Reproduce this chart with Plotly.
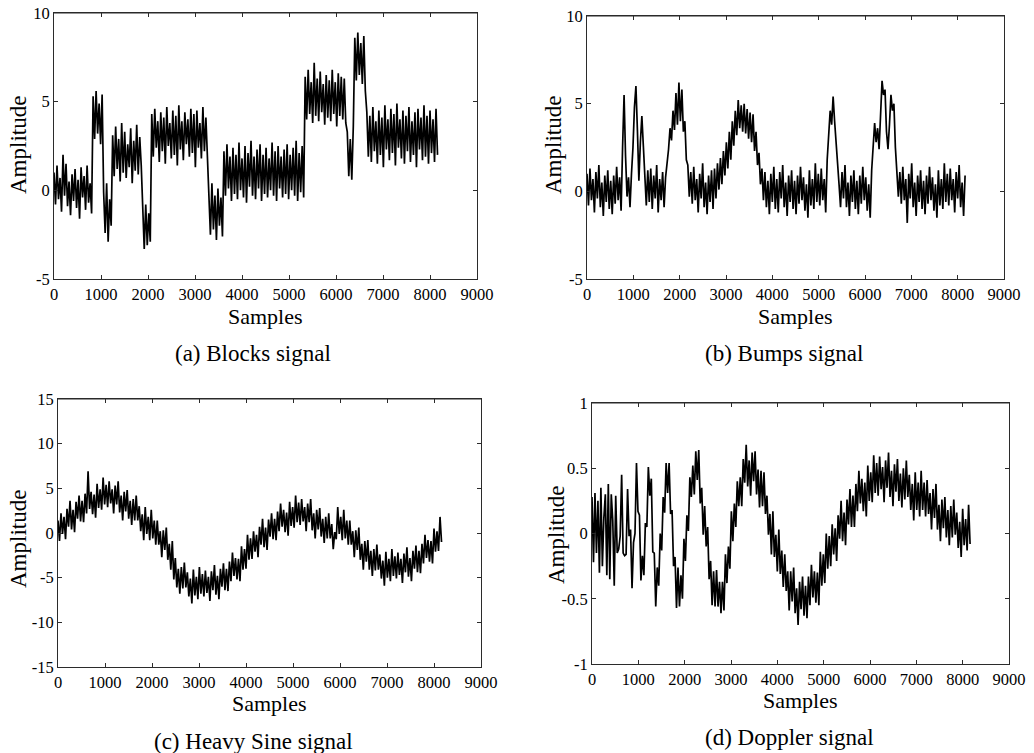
import plotly.graph_objects as go

W, H = 1034, 753

# ---------------- data (one value every 32 samples) ----------------
STEP = 32
samples = list(range(0, 8192, STEP))

blocks = [
    1.0, -0.8, 1.4, -0.5, 0.7, -1.2, 2.0, -0.3, 1.5, -0.9, 0.5, -1.4, 0.9, -0.6, 1.2, -1.0,
    0.6, -1.6, 1.3, -0.4, 0.8, -1.1, 1.4, -0.7, 0.4, -1.3,
    5.3, 2.9, 5.6, 3.2, 4.9, 2.6, 5.4,
    -0.1, -2.4, 0.4, -2.9, -0.5, -2.0,
    3.1, 0.8, 3.6, 1.2, 2.9, 0.5, 3.8, 1.0, 3.3, 0.7, 2.6, 1.3, 3.5, 0.4, 2.8, 1.1, 3.7, 0.9, 3.0, 1.4,
    -1.0, -3.3, -0.8, -3.1, -1.3, -2.9,
    4.3, 1.9, 4.6, 2.4, 3.9, 1.6, 4.4, 2.2, 4.1, 1.5, 4.7, 2.5, 3.8, 1.8, 4.5, 2.0, 4.2, 1.4, 4.8, 2.3,
    3.9, 1.7, 4.4, 2.6, 4.0, 1.9, 4.6, 2.1, 4.3, 1.3, 4.5, 2.4, 3.8, 1.8, 4.7, 2.2, 4.1, 1.6,
    -0.1, -2.5, 0.4, -2.2, -0.3, -2.8, 0.1, -2.0, -0.4, -2.6,
    2.2, -0.3, 2.6, 0.1, 1.9, -0.6, 2.4, -0.2, 2.0, -0.5, 2.7, 0.0, 1.8, -0.4, 2.5, -0.7, 2.1, 0.2,
    2.8, -0.3, 1.9, -0.5, 2.3, 0.1, 2.6, -0.6, 2.0, -0.2, 2.4, -0.4, 1.8, 0.0, 2.7, -0.3, 2.2, -0.6,
    2.5, 0.1, 1.9, -0.4, 2.3, -0.2, 2.6, -0.5, 2.0, 0.0, 2.4, -0.3, 2.8, -0.6, 2.1, -0.1, 2.5, -0.4,
    6.4, 4.0, 6.8, 4.3, 6.1, 3.8, 7.2, 4.2, 6.3, 3.9, 6.7, 4.4, 6.0, 3.7,
    6.5, 4.1, 6.2, 3.9, 6.8, 4.3, 6.1, 3.6, 6.6, 4.2, 6.4, 4.0, 6.3, 3.8,
    3.3, 0.8, 2.9, 0.6, 3.6,
    8.6, 6.2, 8.9, 6.5, 8.3, 6.0, 8.7, 5.6,
    4.4, 1.9, 4.2, 1.6, 4.7, 2.2, 3.9, 1.5, 4.5, 2.0, 4.1, 1.3, 4.8, 2.3, 4.0, 1.7,
    4.6, 2.1, 4.3, 1.4, 4.9, 2.4, 4.0, 1.8, 4.5, 1.5, 4.2, 2.2, 4.7, 1.6, 3.9, 2.0,
    4.4, 1.3, 4.6, 2.3, 4.1, 1.7, 4.8, 1.9, 4.2, 1.5, 4.5, 2.1, 4.0, 1.6, 4.6, 2.0,
]

bumps = [
    1.0, -0.8, 1.3, -0.5, 0.7, -1.2, 1.1, -0.4, 1.5, -0.9, 0.5, -1.4, 0.9, -0.6, 1.2, -1.0,
    0.6, -1.3, 0.9, -0.7, 1.4, -0.5, 0.8, -1.1, 2.5, 5.5, 2.0, -0.3, 0.8, -0.9, 1.0, 2.5,
    4.8, 6.0, 3.5, 0.6, 2.8, 4.3, 2.6, 0.4, -0.8, 1.2, -0.6, 1.3, -1.0, 0.9, -0.4, 1.5,
    -1.2, 0.7, -0.5, 1.1, -0.9, 0.8, 1.5, 2.4, 3.6, 2.9, 4.6, 3.5, 5.6, 3.8, 6.2, 4.0,
    5.8, 3.4, 4.0, 1.8, 1.5, -0.3, 1.1, -0.7, 1.4, -0.5, 0.7, -1.2, 1.0, -0.4, 1.6, -0.9,
    0.5, -1.3, 0.9, -0.6, 1.2, -1.0, 1.3, -0.4, 1.6, 0.1, 1.9, 0.4, 2.3, 0.9, 2.8, 1.3,
    3.4, 1.8, 4.0, 2.6, 4.6, 3.2, 5.2, 3.6, 4.9, 3.4, 5.0, 3.3, 4.7, 3.0, 4.5, 2.8,
    4.4, 2.3, 3.4, 1.5, 2.2, 0.4, 1.3, -0.5, 1.1, -0.9, 0.6, -1.3, 1.0, -0.6, 1.4, -1.0,
    0.7, -1.2, 1.1, -0.4, 1.5, -0.9, 0.5, -1.4, 0.9, -0.6, 1.2, -1.0, 0.6, -1.3, 0.9, -0.7,
    1.4, -0.5, 0.8, -1.1, 0.4, -1.5, 1.2, -0.8, 0.7, -1.0, 1.6, -0.6, 1.0, -0.8, 1.3, -0.5,
    0.7, -1.2, 1.8, 3.2, 4.6, 3.8, 5.4, 4.0, 3.0, 1.6, 0.4, -0.9, 1.1, -0.4, 1.5, -0.9,
    0.5, -1.4, 0.9, -0.6, 1.2, -1.0, 0.6, -1.3, 0.9, -0.7, 1.4, -0.5, 0.8, -1.1, 0.4, -1.5,
    1.2, 3.0, 3.9, 2.8, 3.6, 2.4, 4.2, 6.3, 5.5, 5.8, 3.4, 2.4, 3.8, 5.5, 4.6, 5.0,
    2.5, 1.0, -0.3, 1.1, -0.7, 1.4, -0.5, 0.7, -1.8, 1.0, -0.4, 1.6, -0.9, 0.5, -1.4, 0.9,
    -0.6, 1.2, -1.0, 0.6, -1.3, 0.9, -0.7, 1.4, -0.5, 0.8, -1.1, 0.4, -1.5, 1.2, -0.8, 0.7,
    -1.0, 1.6, -0.6, 1.0, -0.8, 1.3, -0.5, 0.7, -1.2, 1.1, -0.4, 1.5, -0.9, 0.5, -1.4, 0.9,
]

heavy_sine = [
    1.4, -0.9, 2.2, -0.1, 1.8, -0.7, 2.7, 0.7, 3.6, 0.4, 2.6, 0.1, 3.5, 1.6, 4.2, 1.3,
    3.6, 1.2, 4.4, 2.2, 6.9, 2.7, 4.6, 2.1, 4.3, 1.7, 5.5, 2.8, 4.9, 2.6, 6.2, 3.2,
    5.4, 2.9, 5.8, 3.3, 4.9, 2.2, 5.3, 3.2, 5.8, 2.3, 4.2, 1.4, 4.6, 2.4, 4.8, 1.6,
    3.6, 0.9, 3.8, 1.4, 4.2, 1.4, 3.0, 0.2, 2.1, -0.8, 2.9, -0.1, 1.8, -0.8, 2.6, -0.6,
    1.4, -1.3, 1.4, -1.3, 0.2, -2.7, 0.3, -1.9, 0.6, -3.0, -1.2, -4.1, -0.9, -5.2, -2.8, -6.1,
    -4.0, -6.8, -3.8, -6.2, -3.3, -6.1, -4.4, -7.1, -5.1, -7.9, -4.1, -7.0, -4.9, -7.4, -3.8, -6.8,
    -4.6, -7.1, -4.2, -6.7, -4.9, -7.6, -4.3, -6.4, -3.6, -6.9, -4.8, -7.4, -4.0, -6.0, -3.4, -6.4,
    -4.0, -6.5, -3.2, -5.4, -2.2, -4.8, -2.8, -5.2, -2.9, -5.4, -1.5, -4.1, -1.8, -4.0, -0.2, -3.0,
    -0.6, -2.9, 0.2, -2.1, -0.2, -2.7, 0.7, -1.3, 1.6, -1.6, 0.6, -1.9, 1.5, -0.4, 2.2, -0.7,
    1.6, -0.8, 2.4, 0.2, 3.3, 0.7, 2.6, 0.1, 2.3, -0.3, 3.5, 0.8, 2.9, 0.6, 4.2, 1.2,
    3.4, 0.9, 3.8, 1.3, 2.9, 0.2, 3.3, 1.2, 3.8, 0.3, 2.2, -0.6, 2.6, 0.4, 2.8, -0.4,
    1.6, -1.1, 1.8, -0.6, 2.2, -0.6, 1.0, -1.8, 0.1, -0.7, 2.9, -0.1, 1.8, -0.8, 2.6, -0.6,
    1.4, -1.3, 1.4, -1.3, 0.2, -2.7, 0.3, -1.9, 0.6, -3.0, -1.2, -4.1, -0.9, -3.2, -0.8, -4.1,
    -2.0, -4.8, -1.8, -4.2, -1.3, -4.1, -2.4, -5.1, -3.1, -5.9, -2.1, -5.0, -2.9, -5.4, -1.8, -4.8,
    -2.6, -5.1, -2.2, -4.7, -2.9, -5.6, -2.3, -4.4, -1.6, -4.9, -2.8, -5.4, -2.0, -4.0, -1.4, -4.4,
    -2.0, -4.5, -1.2, -3.4, -0.2, -2.8, -0.8, -3.2, -0.9, -3.4, 0.5, -2.1, 0.2, -2.0, 1.8, -1.0,
]

doppler = [
    0.28, -0.22, 0.31, -0.15, 0.25, -0.30, 0.35, -0.25, 0.12, 0.30, -0.32, 0.38, -0.35, 0.30, 0.10, -0.40,
    0.29, -0.15, -0.12, -0.02, 0.45, -0.15, -0.17, -0.16, 0.34, -0.02, 0.03, -0.42, -0.07, 0.00, 0.54, 0.17,
    0.14, -0.36, -0.17, -0.32, 0.08, 0.05, 0.51, 0.29, 0.42, -0.14, -0.15, -0.56, -0.26, -0.40, 0.00, -0.13,
    0.28, 0.16, 0.54, 0.31, 0.54, 0.15, 0.18, -0.25, -0.18, -0.57, -0.26, -0.56, -0.32, -0.50, -0.04, -0.21,
    0.14, 0.02, 0.43, 0.28, 0.52, 0.30, 0.63, 0.41, 0.64, 0.23, 0.35, -0.01, 0.21, -0.10, 0.05, -0.35,
    -0.21, -0.55, -0.29, -0.56, -0.28, -0.56, -0.37, -0.61, -0.37, -0.59, -0.16, -0.38, -0.10, -0.27, 0.17, -0.06,
    0.23, 0.05, 0.40, 0.21, 0.43, 0.21, 0.57, 0.39, 0.68, 0.36, 0.56, 0.29, 0.62, 0.40, 0.63, 0.30,
    0.49, 0.20, 0.48, 0.21, 0.47, 0.15, 0.29, -0.01, 0.15, -0.16, 0.17, -0.18, -0.01, -0.29, 0.03, -0.31,
    -0.13, -0.41, -0.16, -0.44, -0.29, -0.59, -0.29, -0.52, -0.26, -0.61, -0.42, -0.70, -0.37, -0.58, -0.33, -0.63,
    -0.40, -0.65, -0.33, -0.55, -0.24, -0.49, -0.29, -0.53, -0.30, -0.55, -0.14, -0.40, -0.16, -0.38, 0.00, -0.27,
    -0.02, -0.25, 0.07, -0.16, 0.04, -0.21, 0.14, -0.04, 0.25, -0.06, 0.16, -0.09, 0.26, 0.07, 0.34, 0.05,
    0.29, 0.05, 0.38, 0.17, 0.48, 0.23, 0.42, 0.17, 0.39, 0.13, 0.52, 0.25, 0.47, 0.24, 0.60, 0.31,
    0.54, 0.29, 0.59, 0.34, 0.51, 0.24, 0.56, 0.35, 0.62, 0.28, 0.48, 0.21, 0.53, 0.32, 0.57, 0.25,
    0.46, 0.20, 0.50, 0.26, 0.56, 0.28, 0.45, 0.18, 0.38, 0.10, 0.47, 0.18, 0.39, 0.13, 0.48, 0.18,
    0.39, 0.13, 0.41, 0.15, 0.31, 0.03, 0.34, 0.12, 0.38, 0.03, 0.22, -0.06, 0.26, 0.04, 0.28, -0.03,
    0.18, -0.09, 0.21, -0.03, 0.26, -0.01, 0.16, -0.11, 0.09, -0.18, 0.19, -0.09, 0.11, -0.13, 0.22, -0.08,
]

x_tickvals = [0, 1000, 2000, 3000, 4000, 5000, 6000, 7000, 8000, 9000]
x_ticktext = ["0", "1000", "2000", "3000", "4000", "5000", "6000", "7000", "8000", "9000"]
y_tickvals_ab = [-5, 0, 5, 10]
y_ticktext_ab = ["-5", "0", "5", "10"]
y_tickvals_c = [-15, -10, -5, 0, 5, 10, 15]
y_ticktext_c = ["-15", "-10", "-5", "0", "5", "10", "15"]
y_tickvals_d = [-1, -0.5, 0, 0.5, 1]
y_ticktext_d = ["-1", "-0.5", "0", "0.5", "1"]

x_title = "Samples"
y_title = "Amplitude"
captions = ["(a) Blocks signal", "(b) Bumps signal", "(c) Heavy Sine signal", "(d) Doppler signal"]
series = [blocks, bumps, heavy_sine, doppler]

# ---------------- layout (window-pixel boxes of the four plot areas) ----------------
panels = [
    dict(box=(54, 13, 477, 279), yr=[-5, 10], yt=(y_tickvals_ab, y_ticktext_ab),
         ytitle=(18, 145), xtitle=(265, 316), cap=(253, 353)),
    dict(box=(587, 16, 1004, 279), yr=[-5, 10], yt=(y_tickvals_ab, y_ticktext_ab),
         ytitle=(553, 145), xtitle=(795, 316), cap=(784, 353)),
    dict(box=(58, 399, 481, 667), yr=[-15, 15], yt=(y_tickvals_c, y_ticktext_c),
         ytitle=(18, 539), xtitle=(269, 703), cap=(253, 741)),
    dict(box=(592, 403, 1009, 664), yr=[-1, 1], yt=(y_tickvals_d, y_ticktext_d),
         ytitle=(556, 535), xtitle=(800, 700), cap=(789, 737)),
]

FONT = "Liberation Serif, Times New Roman, serif"
AX = "#2b2b2b"

def px(x):
    return x / W

def py(y):
    return 1 - y / H

fig = go.Figure()
layout = dict(
    width=W, height=H, margin=dict(l=0, r=0, t=0, b=0, autoexpand=False),
    paper_bgcolor="white", plot_bgcolor="white", showlegend=False,
    font=dict(family=FONT, color="black", size=16),
)
annotations = []
shapes = []

for i, (p, ys) in enumerate(zip(panels, series), start=1):
    x0, y0, x1, y1 = p["box"]
    xa = "x" if i == 1 else f"x{i}"
    ya = "y" if i == 1 else f"y{i}"
    fig.add_trace(go.Scatter(
        x=samples, y=ys, mode="lines", xaxis=xa, yaxis=ya,
        line=dict(color="black", width=1.7), hoverinfo="skip",
    ))
    common = dict(
        showline=True, linecolor=AX, linewidth=1, mirror="ticks",
        ticks="inside", ticklen=4, tickwidth=1, tickcolor=AX,
        showgrid=False, zeroline=False, automargin=False, ticklabeloverflow="allow",
        tickfont=dict(family=FONT, size=16.5, color="black"),
    )
    layout["xaxis" if i == 1 else f"xaxis{i}"] = dict(
        domain=[px(x0), px(x1)], anchor=ya, range=[0, 9000],
        tickmode="array", tickvals=x_tickvals, ticktext=x_ticktext, **common,
    )
    layout["yaxis" if i == 1 else f"yaxis{i}"] = dict(
        domain=[py(y1), py(y0)], anchor=xa, range=p["yr"],
        tickmode="array", tickvals=p["yt"][0], ticktext=p["yt"][1], **common,
    )
    # top frame edge drawn explicitly as well
    shapes.append(dict(type="line", xref=f"{xa} domain", yref=f"{ya} domain",
                       x0=0, x1=1, y0=1, y1=1, line=dict(color=AX, width=1), layer="above"))
    tx, ty = p["ytitle"]
    annotations.append(dict(text=y_title, x=px(tx), y=py(ty), xref="paper", yref="paper",
                            showarrow=False, textangle=-90, xanchor="center", yanchor="middle",
                            font=dict(family=FONT, size=23, color="black")))
    tx, ty = p["xtitle"]
    annotations.append(dict(text=x_title, x=px(tx), y=py(ty), xref="paper", yref="paper",
                            showarrow=False, xanchor="center", yanchor="middle",
                            font=dict(family=FONT, size=22, color="black")))
    tx, ty = p["cap"]
    annotations.append(dict(text=captions[i - 1], x=px(tx), y=py(ty), xref="paper", yref="paper",
                            showarrow=False, xanchor="center", yanchor="middle",
                            font=dict(family=FONT, size=23, color="black")))

layout["annotations"] = annotations
layout["shapes"] = shapes
fig.update_layout(**layout)
fig.write_html("out.html", config={"displayModeBar": False, "staticPlot": True},
               post_script="document.body.style.margin='0';document.body.style.overflow='hidden';")
